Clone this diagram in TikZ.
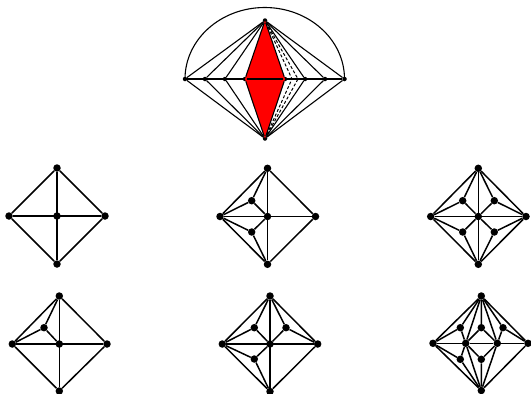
\documentclass[tikz,border=0pt]{standalone}
\usepackage{tikz}
\usepackage{xcolor}

\begin{document}
\begin{tikzpicture}[
    x=1pt, y=-1pt,
    vtx/.style={circle, fill=black, inner sep=0pt, minimum size=7.5pt},
    smallvtx/.style={circle, fill=black, inner sep=0pt, minimum size=4.5pt},
    edge/.style={line width=1.5pt},
    thinedge/.style={line width=1.1pt},
    dashedge/.style={line width=1pt, dashed, dash pattern=on 3pt off 2pt}
]
\useasboundingbox (0,0) rectangle (531,394);

% === Top: fan with red face ===
\node[smallvtx] (t0) at (265,20.5) {};
\node[smallvtx] (b0) at (265,138.5) {};
\foreach \name/\xx in {h1/185, h2/205, h3/225, h4/245, h5/285, h6/305, h7/325, h8/344.5}
    \node[smallvtx] (\name) at (\xx,79) {};
\coordinate (d1) at (292,79);
\coordinate (d2) at (298,79);

\fill[red] (t0.center) -- (h4.center) -- (b0.center) -- (h5.center) -- cycle;
\draw[thinedge] (h1.center) arc[start angle=180, end angle=360, x radius=79.75, y radius=71.5];
\draw[thinedge] (h1) -- (h2) -- (h3) -- (h4) -- (h5) -- (h6) -- (h7) -- (h8);
\foreach \name in {h1, h2, h3, h4, h5, h6, h7, h8}
    \draw[thinedge] (t0) -- (\name) -- (b0);
\draw[dashedge] (t0) -- (d1) -- (b0);
\draw[dashedge] (t0) -- (d2) -- (b0);

% === Row 1, left ===
\node[vtx] (ac) at (57,216) {};
\node[vtx] (at) at (57,168) {};
\node[vtx] (al) at (9,216) {};
\node[vtx] (ar) at (105,216) {};
\node[vtx] (ab) at (57,264) {};
\draw[edge] (at) -- (ar) -- (ab) -- (al) -- (at);
\draw[edge] (at) -- (ab) (al) -- (ar);

% === Row 1, middle ===
\node[vtx] (bc) at (267.5,216.5) {};
\node[vtx] (bt) at (267.5,168.3) {};
\node[vtx] (bl) at (220,216.5) {};
\node[vtx] (br) at (315.5,216.5) {};
\node[vtx] (bb) at (267.5,264.3) {};
\node[vtx] (bul) at (251.7,200.7) {};
\node[vtx] (bll) at (251.7,232) {};
\draw[edge] (bt) -- (br) -- (bb) -- (bl) -- (bt);
\draw[edge] (bt) -- (bb) (bl) -- (br);
\draw[edge] (bt) -- (bul) -- (bl) (bul) -- (bc);
\draw[edge] (bb) -- (bll) -- (bl) (bll) -- (bc);

% === Row 1, right ===
\node[vtx] (cc) at (478.3,216.5) {};
\node[vtx] (ct) at (478.3,168.3) {};
\node[vtx] (cl) at (430.7,216.5) {};
\node[vtx] (cr) at (526,216.5) {};
\node[vtx] (cb) at (478.3,264.3) {};
\node[vtx] (cul) at (462.7,200.7) {};
\node[vtx] (cur) at (494.3,200.7) {};
\node[vtx] (cll) at (462.7,232) {};
\node[vtx] (clr) at (494.3,232) {};
\draw[edge] (ct) -- (cr) -- (cb) -- (cl) -- (ct);
\draw[edge] (ct) -- (cb) (cl) -- (cr);
\draw[edge] (ct) -- (cul) -- (cl) (cul) -- (cc);
\draw[edge] (ct) -- (cur) -- (cr) (cur) -- (cc);
\draw[edge] (cb) -- (cll) -- (cl) (cll) -- (cc);
\draw[edge] (cb) -- (clr) -- (cr) (clr) -- (cc);

% === Row 2, left ===
\node[vtx] (dc) at (59.3,344) {};
\node[vtx] (dt) at (59.3,296) {};
\node[vtx] (dl) at (12.3,344) {};
\node[vtx] (dr) at (107,344) {};
\node[vtx] (db) at (59.3,391) {};
\node[vtx] (dul) at (44,327.7) {};
\draw[edge] (dt) -- (dr) -- (db) -- (dl) -- (dt);
\draw[edge] (dt) -- (db) (dl) -- (dr);
\draw[edge] (dt) -- (dul) -- (dl) (dul) -- (dc);

% === Row 2, middle ===
\node[vtx] (ec) at (270,344) {};
\node[vtx] (et) at (270,296) {};
\node[vtx] (el) at (222.3,344) {};
\node[vtx] (er) at (317.7,344) {};
\node[vtx] (eb) at (270,391.5) {};
\node[vtx] (eul) at (254.3,327.7) {};
\node[vtx] (eur) at (286,327.7) {};
\node[vtx] (ell) at (254.3,359) {};
\draw[edge] (et) -- (er) -- (eb) -- (el) -- (et);
\draw[edge] (et) -- (eb) (el) -- (er);
\draw[edge] (et) -- (eul) -- (el) (eul) -- (ec);
\draw[edge] (et) -- (eur) -- (er) (eur) -- (ec);
\draw[edge] (eb) -- (ell) -- (el) (ell) -- (ec);

% === Row 2, right ===
\node[vtx] (ft) at (481.3,296) {};
\node[vtx] (fl) at (433,343.3) {};
\node[vtx] (fr) at (528,343.3) {};
\node[vtx] (fb) at (481.3,390.5) {};
\node[vtx] (fm1) at (465.7,343.3) {};
\node[vtx] (fm2) at (497.3,343.3) {};
\node[vtx] (fu1) at (460.3,327.7) {};
\node[vtx] (fu2) at (481.3,327.7) {};
\node[vtx] (fu3) at (503,327.7) {};
\node[vtx] (fd1) at (460.3,359.3) {};
\node[vtx] (fd2) at (481.3,359.3) {};
\draw[edge] (ft) -- (fr) -- (fb) -- (fl) -- (ft);
\draw[edge] (fl) -- (fm1) -- (fm2) -- (fr);
\draw[edge] (ft) -- (fm1) -- (fb) (ft) -- (fm2) -- (fb);
\draw[edge] (ft) -- (fu1) -- (fl) (fu1) -- (fm1);
\draw[edge] (ft) -- (fu2) -- (fm1) (fu2) -- (fm2);
\draw[edge] (ft) -- (fu3) -- (fr) (fu3) -- (fm2);
\draw[edge] (fb) -- (fd1) -- (fl) (fd1) -- (fm1);
\draw[edge] (fb) -- (fd2) -- (fm1) (fd2) -- (fm2);

\end{tikzpicture}
\end{document}
